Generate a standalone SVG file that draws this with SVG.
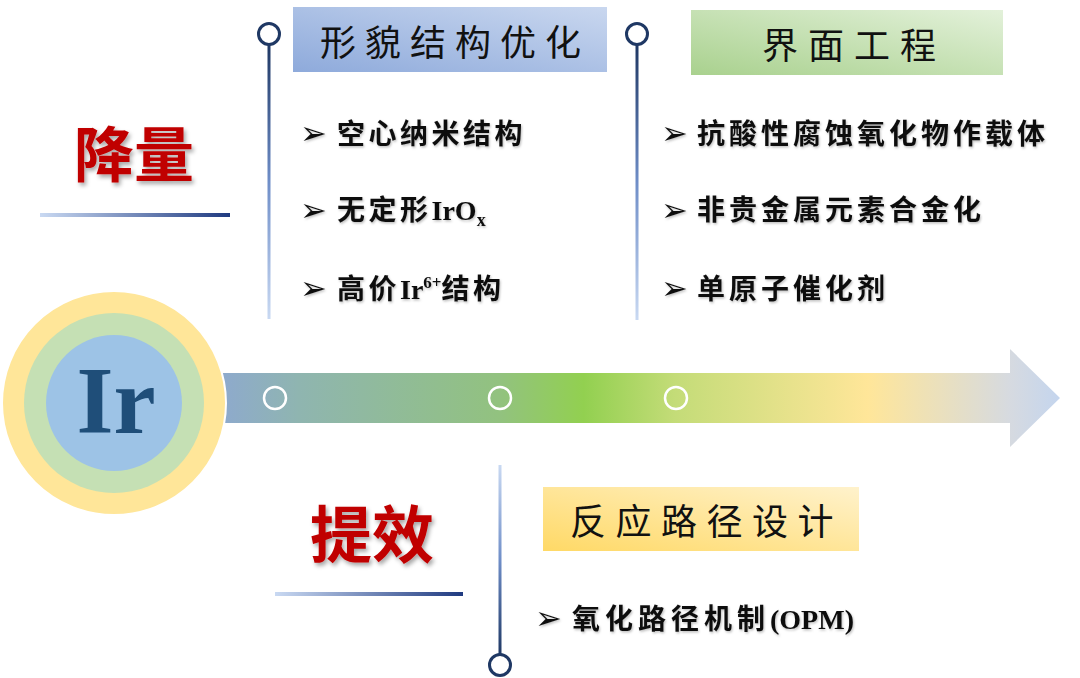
<svg xmlns="http://www.w3.org/2000/svg" width="1080" height="678" viewBox="0 0 1080 678">
  <style>
    .title { font-family: "Noto Sans CJK SC", sans-serif; font-size: 36px; font-weight: 400; fill: #111111; letter-spacing: 9px; }
    .bullet { font-family: "Noto Sans CJK SC", sans-serif; font-size: 28px; font-weight: 700; fill: #111111; letter-spacing: 3.5px; }
    .lat { font-family: "Liberation Serif", "Times New Roman", serif; font-weight: 700; letter-spacing: 0px; }
    .mark { font-family: "DejaVu Sans", sans-serif; font-size: 32px; fill: #111111; }
    .red { font-family: "Noto Sans CJK SC", sans-serif; font-weight: 700; fill: #c00000; }
    .knob { fill: #ffffff; stroke: #1f3864; stroke-width: 3; }
    .dot { fill: none; stroke: #ffffff; stroke-width: 2.5; }
  </style>
  <defs>
    <linearGradient id="gAxis" gradientUnits="userSpaceOnUse" x1="224" y1="0" x2="1060" y2="0">
      <stop offset="0" stop-color="#8eaacc"/>
      <stop offset="0.09" stop-color="#8fb5b0"/>
      <stop offset="0.33" stop-color="#92c27f"/>
      <stop offset="0.43" stop-color="#92d050"/>
      <stop offset="0.54" stop-color="#c4dc78"/>
      <stop offset="0.77" stop-color="#ffe699"/>
      <stop offset="0.94" stop-color="#d6dae0"/>
      <stop offset="1" stop-color="#c4d5ee"/>
    </linearGradient>
    <linearGradient id="gT1" x1="0" y1="1" x2="1" y2="0">
      <stop offset="0" stop-color="#8eaadb"/>
      <stop offset="1" stop-color="#c9d7ef"/>
    </linearGradient>
    <linearGradient id="gT2" x1="0" y1="1" x2="1" y2="0">
      <stop offset="0" stop-color="#a9d18e"/>
      <stop offset="1" stop-color="#e3f1da"/>
    </linearGradient>
    <linearGradient id="gT3" x1="0" y1="1" x2="1" y2="0">
      <stop offset="0" stop-color="#ffd966"/>
      <stop offset="1" stop-color="#fff2cc"/>
    </linearGradient>
    <linearGradient id="gDown" x1="0" y1="0" x2="0" y2="1">
      <stop offset="0" stop-color="#1f3864"/>
      <stop offset="0.5" stop-color="#6f8ec8"/>
      <stop offset="1" stop-color="#c9d9f2"/>
    </linearGradient>
    <linearGradient id="gUp" x1="0" y1="0" x2="0" y2="1">
      <stop offset="0" stop-color="#c9d9f2"/>
      <stop offset="0.5" stop-color="#6f8ec8"/>
      <stop offset="1" stop-color="#1f3864"/>
    </linearGradient>
    <linearGradient id="gUnder" x1="0" y1="0" x2="1" y2="0">
      <stop offset="0" stop-color="#c9d9f2"/>
      <stop offset="1" stop-color="#1f3a80"/>
    </linearGradient>
    <filter id="shRed" x="-20%" y="-20%" width="150%" height="150%">
      <feDropShadow dx="2" dy="3" stdDeviation="2" flood-color="#000000" flood-opacity="0.35"/>
    </filter>
    <filter id="shTxt" x="-5%" y="-20%" width="115%" height="150%">
      <feDropShadow dx="1" dy="1.5" stdDeviation="1" flood-color="#000000" flood-opacity="0.25"/>
    </filter>
  </defs>

  <rect width="1080" height="678" fill="#ffffff"/>

  <!-- axis arrow -->
  <g id="axis">
    <polygon points="214,373 1010,373 1010,349 1060,398 1010,447 1010,423 214,423" fill="url(#gAxis)"/>
    <circle class="dot" cx="275" cy="398" r="11"/>
    <circle class="dot" cx="500" cy="398" r="11"/>
    <circle class="dot" cx="676" cy="398" r="11"/>
  </g>

  <!-- Ir node -->
  <g id="node-ir">
    <circle cx="114" cy="403" r="112" fill="#ffe699" stroke="#ffffff" stroke-width="2"/>
    <circle cx="114" cy="403" r="90" fill="#c5e0b4"/>
    <circle cx="114" cy="403" r="68" fill="#9dc3e6"/>
    <text x="116" y="433" text-anchor="middle" font-family="Liberation Serif, Times New Roman, serif" font-weight="700" font-size="95" fill="#1f4e79">Ir</text>
  </g>

  <!-- connectors: timeline stems -->
  <g id="connectors">
    <rect x="267.5" y="45" width="3" height="274" fill="url(#gDown)"/>
    <circle class="knob" cx="269" cy="34" r="10.5"/>
    <rect x="635.5" y="45" width="3" height="275" fill="url(#gDown)"/>
    <circle class="knob" cx="637" cy="34" r="10.5"/>
    <rect x="498.5" y="465" width="3" height="190" fill="url(#gUp)"/>
    <circle class="knob" cx="500" cy="665" r="10.5"/>
  </g>

  <!-- 降量 -->
  <g id="node-jiangliang">
    <text class="red" x="74" y="177" font-size="60" filter="url(#shRed)">降量</text>
    <rect x="40" y="213" width="190" height="4" fill="url(#gUnder)"/>
  </g>

  <!-- 提效 -->
  <g id="node-tixiao">
    <text class="red" x="310" y="558" font-size="62" filter="url(#shRed)">提效</text>
    <rect x="275" y="592" width="188" height="4" fill="url(#gUnder)"/>
  </g>

  <!-- 形貌结构优化 -->
  <g id="node-morphology">
    <rect x="293" y="7" width="314" height="65" fill="url(#gT1)"/>
    <text class="title" x="320" y="56">形貌结构优化</text>
    <g filter="url(#shTxt)">
      <text class="mark" x="300" y="144">➢</text>
      <text class="bullet" x="337" y="144">空心纳米结构</text>
      <text class="mark" x="300" y="221">➢</text>
      <text class="bullet" x="337" y="220">无定形<tspan class="lat">IrO</tspan><tspan class="lat" font-size="18" dy="6">x</tspan></text>
      <text class="mark" x="300" y="299">➢</text>
      <text class="bullet" x="337" y="299">高价<tspan class="lat">Ir</tspan><tspan class="lat" font-size="17" dy="-11">6+</tspan><tspan dy="11">结构</tspan></text>
    </g>
  </g>

  <!-- 界面工程 -->
  <g id="node-interface">
    <rect x="691" y="10" width="312" height="65" fill="url(#gT2)"/>
    <text class="title" x="762" y="59" style="letter-spacing:10px">界面工程</text>
    <g filter="url(#shTxt)">
      <text class="mark" x="661" y="144">➢</text>
      <text class="bullet" x="697" y="144" style="letter-spacing:4px">抗酸性腐蚀氧化物作载体</text>
      <text class="mark" x="661" y="221">➢</text>
      <text class="bullet" x="697" y="220" style="letter-spacing:4px">非贵金属元素合金化</text>
      <text class="mark" x="661" y="299">➢</text>
      <text class="bullet" x="697" y="299" style="letter-spacing:4px">单原子催化剂</text>
    </g>
  </g>

  <!-- 反应路径设计 -->
  <g id="node-pathway">
    <rect x="543" y="487" width="316" height="64" fill="url(#gT3)"/>
    <text class="title" x="570" y="535" style="letter-spacing:9.5px">反应路径设计</text>
    <g filter="url(#shTxt)">
      <text class="mark" x="535" y="629">➢</text>
      <text class="bullet" x="572" y="629" style="letter-spacing:5px">氧化路径机制<tspan class="lat">(OPM)</tspan></text>
    </g>
  </g>
</svg>
